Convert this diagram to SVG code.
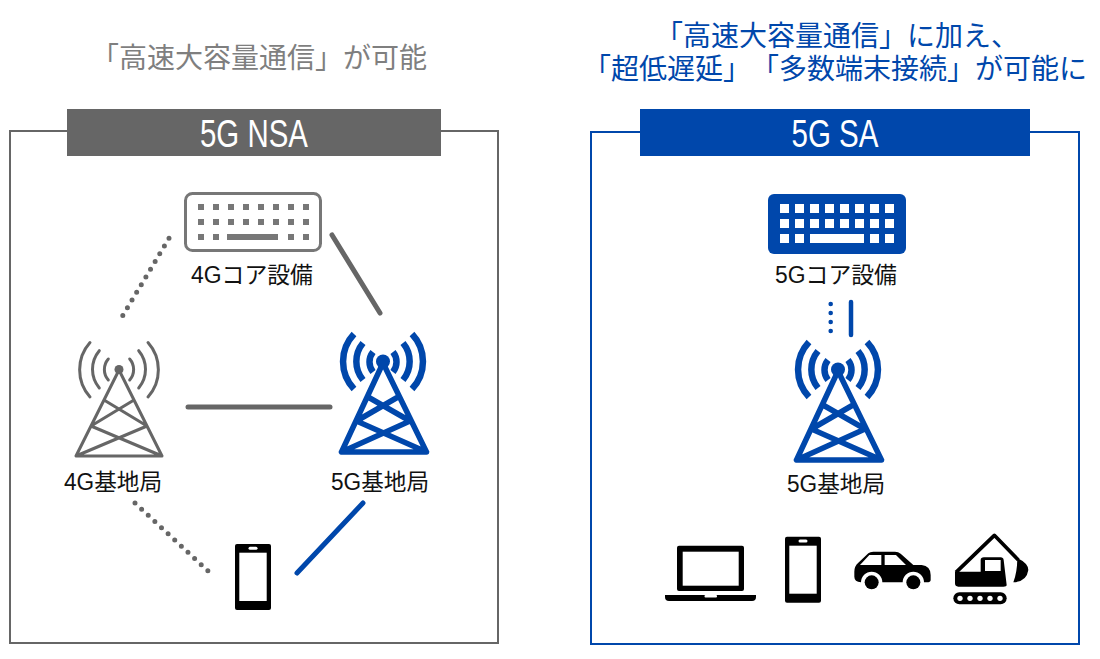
<svg xmlns="http://www.w3.org/2000/svg" width="1100" height="659" viewBox="0 0 1100 659">
<style>
text{font-family:"Liberation Sans","Noto Sans CJK JP",sans-serif;text-spacing-trim:space-all;font-feature-settings:"chws" 0}
.ttl{font-size:28px}
.hd{font-size:38px;fill:#fff;text-anchor:middle}
.lb{font-size:23px;fill:#111}
.frame{fill:none;stroke-width:2}
.g{stroke:#666;fill:none;stroke-linecap:round}
.b{stroke:#0047ab;fill:none;stroke-linecap:round}
.dot{stroke-width:5}
.k{fill:none;stroke-linecap:round;stroke-linejoin:round}
</style>
<defs>
<g id="tower5" fill="none" stroke="#0047ab" stroke-linecap="round" stroke-linejoin="round">
<circle cx="383" cy="361.5" r="7" fill="#0047ab" stroke="none"/>
<path stroke-width="5.500" d="M383 363L341.500 452L426.500 452ZM368 397L410 421L341.500 452M398 397L356.500 421L426.500 452"/>
<path stroke-width="6.500" stroke-linecap="butt" d="M354 334A40 40 0 0 0 354 389M363 343A29 29 0 0 0 363 380M373 352A16 16 0 0 0 373 372M412 334A40 40 0 0 1 412 389M403 343A29 29 0 0 1 403 380M393 352A16 16 0 0 1 393 372"/>
</g>
</defs>

<g id="title-nsa"><text class="ttl" x="91" y="68" fill="#7f7f7f">「高速大容量通信」が可能</text></g>
<g id="title-sa">
<text class="ttl" x="655" y="46" fill="#0047ab">「高速大容量通信」に加え、</text>
<text class="ttl" x="583" y="79" fill="#0047ab">「超低遅延」「多数端末接続」が可能に</text>
</g>

<g id="panel-nsa">
<rect class="frame" x="10" y="131" width="488" height="512" stroke="#666"/>
<rect x="67" y="109" width="374" height="47" fill="#666"/>
<text class="hd" x="254" y="146.500" textLength="108" lengthAdjust="spacingAndGlyphs">5G NSA</text>
</g>
<g id="panel-sa">
<rect class="frame" x="591" y="132" width="488" height="512" stroke="#0047ab"/>
<rect x="640" y="109" width="390" height="47" fill="#0047ab"/>
<text class="hd" x="835" y="146.500" textLength="87" lengthAdjust="spacingAndGlyphs">5G SA</text>
</g>

<g id="connectors">
<path class="g dot" stroke-dasharray="0 9" d="M169 238.300L122.700 315.700"/>
<path class="g" stroke-width="5" d="M332 235L380 313"/>
<path class="g" stroke-width="5" d="M188 407L330 407"/>
<path class="g dot" stroke-dasharray="0 9.050" d="M135 503L208 571"/>
<path class="b" stroke-width="5" d="M363 503L297 573"/>
<path class="b" stroke-width="4.600" stroke-dasharray="0 9" d="M830.700 304L830.700 331.500"/>
<path class="b" stroke-width="4.500" d="M851 302L851 335"/>
</g>

<g id="core-4g">
<rect x="185.500" y="193.500" width="135" height="57" rx="7" fill="#fff" stroke="#777" stroke-width="3"/>
<path fill="#777" d="M198 204h6v6h-6zM213 204h6v6h-6zM228 204h6v6h-6zM243 204h6v6h-6zM258 204h6v6h-6zM273 204h6v6h-6zM288 204h6v6h-6zM303 204h6v6h-6zM198 219h6v6h-6zM213 219h6v6h-6zM228 219h6v6h-6zM243 219h6v6h-6zM258 219h6v6h-6zM273 219h6v6h-6zM288 219h6v6h-6zM303 219h6v6h-6zM198 234h6v6h-6zM213 234h6v6h-6zM227 234h51v6h-51zM288 234h6v6h-6zM303 234h6v6h-6z"/>
<text class="lb" x="191" y="283" textLength="122" lengthAdjust="spacingAndGlyphs">4Gコア設備</text>
</g>

<g id="bs-4g">
<circle cx="119" cy="369.500" r="4.500" fill="#666"/>
<path class="k" stroke="#666" stroke-width="3" d="M119 370L76 456L162 456ZM104 400L147 426L76 456M134 400L91 426L162 456"/>
<path class="k" stroke="#666" stroke-width="3" d="M90 342.500A41 41 0 0 0 90 397M99.300 350.700A29 29 0 0 0 99.300 388M108.300 359A16 16 0 0 0 108.300 380M148 342.500A41 41 0 0 1 148 397M138.700 350.700A29 29 0 0 1 138.700 388M129.700 359A16 16 0 0 1 129.700 380"/>
<text class="lb" x="64" y="490" textLength="98" lengthAdjust="spacingAndGlyphs">4G基地局</text>
</g>

<g id="bs-5g">
<use href="#tower5"/>
<text class="lb" x="331" y="490" textLength="98" lengthAdjust="spacingAndGlyphs">5G基地局</text>
</g>

<g id="phone-nsa">
<rect x="235" y="544" width="36" height="66" rx="2" fill="#000"/>
<rect x="239.300" y="552.700" width="27.400" height="48.300" fill="#fff"/>
<rect x="248.500" y="546.700" width="9" height="3" rx="1.500" fill="#fff"/>
</g>

<g id="core-5g">
<rect x="768" y="194" width="138" height="60" rx="6" fill="#0047ab"/>
<path fill="#fff" d="M780 204h9v9h-9zM795 204h9v9h-9zM810 204h9v9h-9zM825 204h9v9h-9zM840 204h9v9h-9zM855 204h9v9h-9zM870 204h9v9h-9zM885 204h9v9h-9zM780 219h9v9h-9zM795 219h9v9h-9zM810 219h9v9h-9zM825 219h9v9h-9zM840 219h9v9h-9zM855 219h9v9h-9zM870 219h9v9h-9zM885 219h9v9h-9zM780 234h9v9h-9zM795 234h9v9h-9zM810 234h54v9h-54zM870 234h9v9h-9zM885 234h9v9h-9z"/>
<text class="lb" x="775" y="283" textLength="122" lengthAdjust="spacingAndGlyphs">5Gコア設備</text>
</g>

<g id="bs-5g-sa">
<use href="#tower5" transform="translate(455 8)"/>
<text class="lb" x="787" y="492" textLength="98" lengthAdjust="spacingAndGlyphs">5G基地局</text>
</g>

<g id="laptop">
<rect x="677" y="545.700" width="67" height="45.300" rx="2" fill="#000"/>
<rect x="682.700" y="551.700" width="56" height="34" fill="#fff"/>
<path fill="#000" d="M665 595H756V597Q756 601 752 601H669Q665 601 665 597Z"/>
<rect x="704.500" y="595" width="12.500" height="2.500" rx="1" fill="#fff"/>
</g>
<g id="phone-sa">
<rect x="785" y="536.700" width="36" height="66" rx="2" fill="#000"/>
<rect x="789.300" y="545.700" width="27.400" height="48" fill="#fff"/>
<rect x="798.500" y="539.500" width="9" height="3" rx="1.500" fill="#fff"/>
</g>
<g id="car" transform="translate(660 530) scale(.33333)">
<path fill="#000" d="M583 125Q583 108 595 98L625 70Q630 65 640 65H705Q715 65 722 71L760 105H785Q812 108 812 135V150Q812 157 800 157H792A32 32 0 0 0 728 157H667A32 32 0 0 0 603 157Q583 155 583 140Z"/>
<path fill="#fff" d="M600 105L628 75H664V105ZM674 75H708L738 105H674Z"/>
<circle cx="635" cy="157" r="21" fill="#000"/>
<circle cx="760" cy="157" r="21" fill="#000"/>
</g>
<g id="excavator" transform="translate(660 530) scale(.33333)">
<path fill="none" stroke="#000" stroke-width="11" stroke-linejoin="round" d="M888 127L1003 16L1075 90"/>
<path fill="#000" d="M1072 84Q1105 100 1105 120Q1100 155 1060 157Q1072 125 1072 84Z"/>
<path fill="#000" d="M885 125H962V90Q962 82 972 82H1022Q1030 82 1031 90L1040 165Q1040 170 1030 170H895Q885 170 885 160Z"/>
<rect x="975" y="90" width="47" height="33" fill="#fff"/>
<rect x="880" y="187" width="160" height="36" rx="18" fill="#000"/>
<g fill="#fff"><circle cx="900" cy="205" r="8"/><circle cx="930" cy="205" r="8"/><circle cx="960" cy="205" r="8"/><circle cx="990" cy="205" r="8"/><circle cx="1020" cy="205" r="8"/></g>
</g>
</svg>
